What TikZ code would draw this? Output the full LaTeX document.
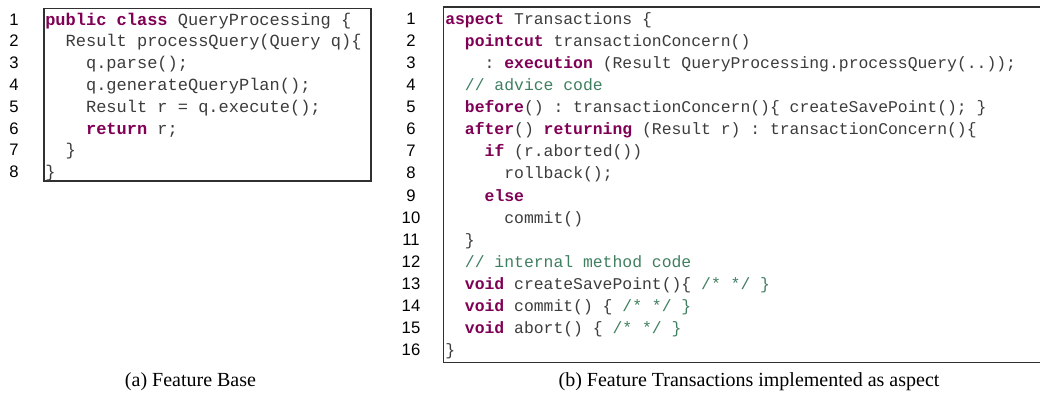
\documentclass[tikz,border=0pt]{standalone}
\usepackage{fontspec}
\setmainfont{Liberation Serif}
\setsansfont{Liberation Sans}
\setmonofont{Liberation Mono}
\definecolor{kwcol}{HTML}{7F0055}
\definecolor{cmcol}{HTML}{3F7F5F}
\definecolor{txtcol}{HTML}{3C3C3C}
\definecolor{framecol}{HTML}{303030}
\newcommand{\kw}[1]{\textbf{\textcolor{kwcol}{#1}}}
\newcommand{\cmt}[1]{\textcolor{cmcol}{#1}}

\begin{document}
\begin{tikzpicture}[x=0.75pt,y=-0.75pt,
  codeA/.style={anchor=base west, inner sep=0pt, text=txtcol,
    font=\fontsize{12.75pt}{14pt}\ttfamily},
  codeB/.style={anchor=base west, inner sep=0pt, text=txtcol,
    font=\fontsize{12.3pt}{14pt}\ttfamily},
  lnum/.style={anchor=base, inner sep=0pt, text=black,
    font=\fontsize{12.5pt}{14pt}\sffamily},
  listframe/.style={draw=framecol, line width=0.8pt},
  caption/.style={anchor=base, inner sep=0pt, text=black,
    font=\fontsize{15pt}{18pt}\selectfont}]
  \useasboundingbox (0,0) rectangle (1040,394);

  % ---------- (a) Feature Base ----------
  \def\ax{45}\def\acw{10.2}\def\ay{25}\def\ady{21.8}
  \draw[listframe] (44,8.5) rectangle (371,181);
  \foreach \i in {1,...,8}
    \node[lnum] (an\i) at (14,{\ay+(\i-1)*\ady}) {\i};
  \foreach \i/\ind/\txt in {
      1/0/{\kw{public} \kw{class} QueryProcessing \{},
      2/2/{Result processQuery(Query q)\{},
      3/4/{q.parse();},
      4/4/{q.generateQueryPlan();},
      5/4/{Result r = q.execute();},
      6/4/{\kw{return} r;},
      7/2/{\}},
      8/0/{\}}}
    \node[codeA] (ac\i) at ({\ax+\ind*\acw},{\ay+(\i-1)*\ady}) {\txt};
  \node[caption] (capA) at (190.5,386) {(a) Feature Base};

  % ---------- (b) Feature Transactions as aspect ----------
  \def\bx{445}\def\bcw{9.85}\def\by{24}\def\bdy{22.13}
  \draw[listframe] (1046,7) -- (443.5,7) -- (443.5,362.5) -- (1046,362.5);
  \foreach \i in {1,...,16}
    \node[lnum] (bn\i) at (411,{\by+(\i-1)*\bdy}) {\i};
  \foreach \i/\ind/\txt in {
      1/0/{\kw{aspect} Transactions \{},
      2/2/{\kw{pointcut} transactionConcern()},
      3/4/{: \kw{execution} (Result QueryProcessing.processQuery(..));},
      4/2/{\cmt{// advice code}},
      5/2/{\kw{before}() : transactionConcern()\{ createSavePoint(); \}},
      6/2/{\kw{after}() \kw{returning} (Result r) : transactionConcern()\{},
      7/4/{\kw{if} (r.aborted())},
      8/6/{rollback();},
      9/4/{\kw{else}},
      10/6/{commit()},
      11/2/{\}},
      12/2/{\cmt{// internal method code}},
      13/2/{\kw{void} createSavePoint()\{ \cmt{/* */ \}}},
      14/2/{\kw{void} commit() \{ \cmt{/* */ \}}},
      15/2/{\kw{void} abort() \{ \cmt{/* */ \}}},
      16/0/{\}}}
    \node[codeB] (bc\i) at ({\bx+\ind*\bcw},{\by+(\i-1)*\bdy}) {\txt};
  \node[caption] (capB) at (749,386) {(b) Feature Transactions implemented as aspect};
\end{tikzpicture}
\end{document}
